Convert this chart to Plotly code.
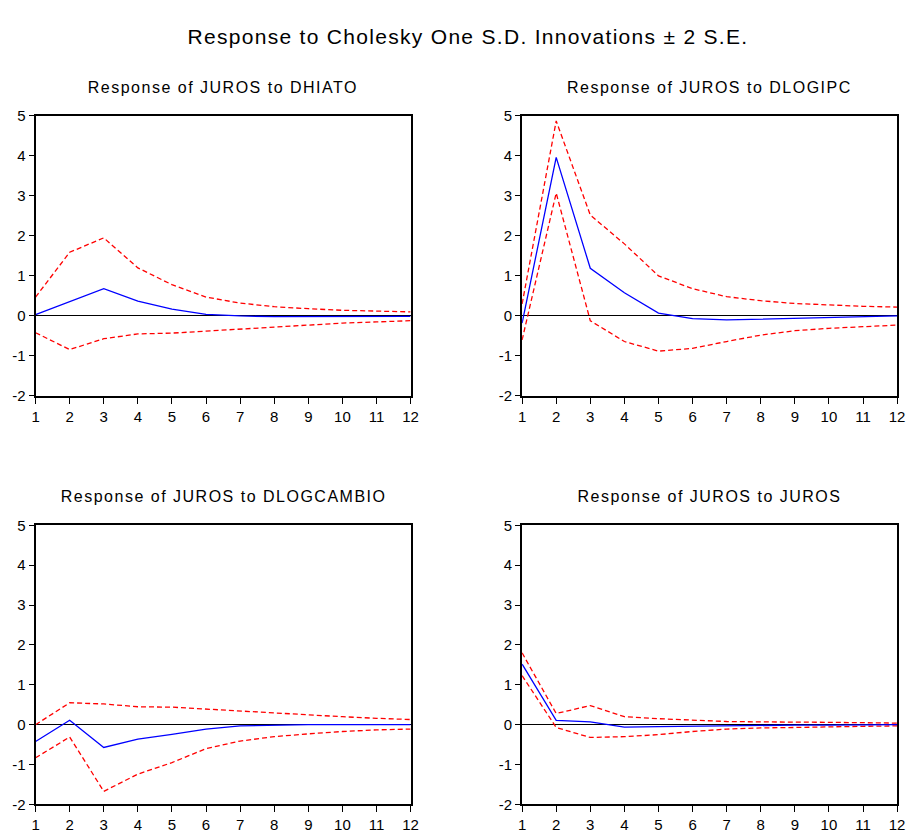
import plotly.graph_objects as go

W, H = 914, 835
periods = list(range(1, 13))

titles = [
    "Response of JUROS to DHIATO",
    "Response of JUROS to DLOGIPC",
    "Response of JUROS to DLOGCAMBIO",
    "Response of JUROS to JUROS",
]
main_title = "Response to Cholesky One S.D. Innovations \u00b1 2 S.E."

resp_dhiato = [0.03, 0.36, 0.68, 0.37, 0.17, 0.04, 0.0, -0.02, -0.02, -0.01, -0.01, -0.01]
upper_dhiato = [0.47, 1.59, 1.95, 1.20, 0.78, 0.47, 0.32, 0.23, 0.18, 0.14, 0.12, 0.10]
lower_dhiato = [-0.42, -0.84, -0.57, -0.45, -0.43, -0.38, -0.33, -0.28, -0.23, -0.18, -0.15, -0.12]

resp_dlogipc = [-0.18, 3.96, 1.19, 0.58, 0.07, -0.07, -0.10, -0.08, -0.05, -0.03, -0.01, 0.0]
upper_dlogipc = [0.30, 4.87, 2.52, 1.80, 1.00, 0.68, 0.48, 0.38, 0.31, 0.27, 0.24, 0.22]
lower_dlogipc = [-0.60, 3.07, -0.12, -0.64, -0.88, -0.81, -0.64, -0.48, -0.37, -0.31, -0.27, -0.23]

resp_dlogcambio = [-0.42, 0.11, -0.57, -0.36, -0.24, -0.11, -0.03, -0.01, 0.0, 0.0, 0.0, 0.0]
upper_dlogcambio = [0.0, 0.55, 0.52, 0.45, 0.44, 0.39, 0.34, 0.30, 0.25, 0.20, 0.16, 0.13]
lower_dlogcambio = [-0.83, -0.31, -1.67, -1.24, -0.95, -0.60, -0.41, -0.30, -0.23, -0.17, -0.13, -0.11]

resp_juros = [1.52, 0.11, 0.07, -0.06, -0.05, -0.04, -0.02, -0.02, -0.01, -0.01, -0.01, 0.0]
upper_juros = [1.80, 0.28, 0.48, 0.20, 0.15, 0.11, 0.08, 0.07, 0.07, 0.06, 0.05, 0.04]
lower_juros = [1.23, -0.07, -0.32, -0.30, -0.25, -0.17, -0.11, -0.08, -0.07, -0.05, -0.04, -0.03]

y_ticks = [-2, -1, 0, 1, 2, 3, 4, 5]

panels = [
    (resp_dhiato, upper_dhiato, lower_dhiato),
    (resp_dlogipc, upper_dlogipc, lower_dlogipc),
    (resp_dlogcambio, upper_dlogcambio, lower_dlogcambio),
    (resp_juros, upper_juros, lower_juros),
]

# pixel boxes (left, right, top, bottom)
boxes = [
    (32, 412, 109, 395),
    (525, 905, 109, 395),
    (32, 412, 527, 812),
    (525, 905, 527, 812),
]

FONT = "Liberation Sans, Arial, sans-serif"

fig = go.Figure()
layout = dict(
    width=W, height=H,
    margin=dict(l=0, r=0, t=0, b=0),
    paper_bgcolor="white", plot_bgcolor="white",
    showlegend=False,
    font=dict(family=FONT, color="black", size=15),
    annotations=[],
)

for i, ((resp, up, lo), (l, r, t, b)) in enumerate(zip(panels, boxes)):
    n = i + 1
    xa = "x" if n == 1 else f"x{n}"
    ya = "y" if n == 1 else f"y{n}"
    for vals, color, dash in [(up, "#ff0000", "5px,3px"), (lo, "#ff0000", "5px,3px"), (resp, "#0000ff", "solid")]:
        fig.add_trace(go.Scatter(
            x=periods, y=vals, mode="lines", xaxis=xa, yaxis=ya,
            line=dict(color=color, width=1.3, dash=dash), hoverinfo="skip",
        ))
    xkey = "xaxis" if n == 1 else f"xaxis{n}"
    ykey = "yaxis" if n == 1 else f"yaxis{n}"
    layout[xkey] = dict(
        domain=[l / W, r / W], anchor=ya, range=[1, 12],
        tickmode="array", tickvals=periods, ticktext=[str(p) for p in periods],
        ticks="outside", ticklen=6, tickcolor="black", tickwidth=1,
        showline=True, linecolor="black", linewidth=2, mirror=True,
        showgrid=False, zeroline=False,
        tickfont=dict(family=FONT, size=15, color="black"),
        fixedrange=True,
    )
    layout[ykey] = dict(
        domain=[1 - b / H, 1 - t / H], anchor=xa, range=[-2, 5],
        tickmode="array", tickvals=y_ticks, ticktext=[str(v) for v in y_ticks],
        ticks="outside", ticklen=5, tickcolor="black", tickwidth=1,
        showline=True, linecolor="black", linewidth=2, mirror=True,
        showgrid=False, zeroline=True, zerolinecolor="black", zerolinewidth=1,
        tickfont=dict(family=FONT, size=15, color="black"),
        fixedrange=True,
    )
    layout["annotations"].append(dict(
        text=titles[i], xref="paper", yref="paper",
        x=(l + r) / 2 / W, y=1 - (t - 29) / H,
        xanchor="center", yanchor="middle", showarrow=False,
        font=dict(family=FONT, size=16, color="black"),
    ))

layout["annotations"].append(dict(
    text=main_title,
    xref="paper", yref="paper", x=470 / W, y=1 - 28 / H,
    xanchor="center", yanchor="middle", showarrow=False,
    font=dict(family=FONT, size=21, color="black"),
))

fig.update_layout(**layout)

post = """
var gd = document.getElementById('{plot_id}');
var anns = gd.querySelectorAll('.annotation-text');
anns.forEach(function(t){
  var txt = t.textContent || '';
  if (txt.indexOf('Cholesky') >= 0) { t.style.letterSpacing = '1.3px'; }
  else { t.style.letterSpacing = '1.5px'; }
});
"""
fig.write_html("out.html", post_script=post)
